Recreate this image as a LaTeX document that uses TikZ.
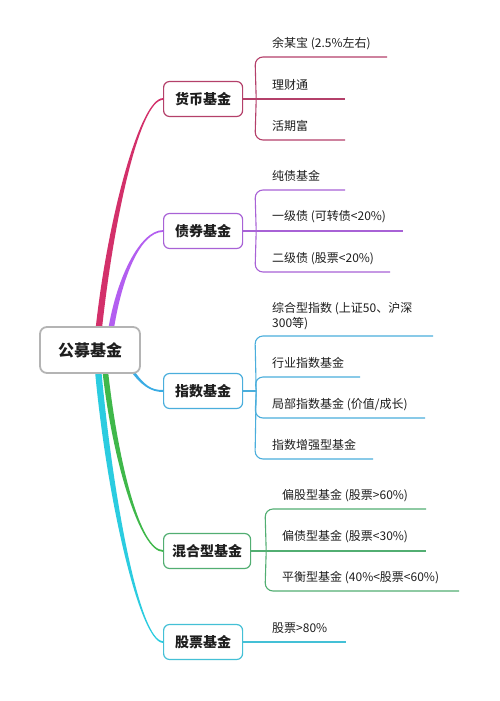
\documentclass[tikz,border=0pt]{standalone}
\usepackage{fontspec}
\setmainfont{Noto Sans CJK SC}
\usetikzlibrary{calc,backgrounds}
\definecolor{txt}{HTML}{1E1E1E}
\definecolor{pinkT}{HTML}{D3306A}
\definecolor{pinkL}{HTML}{B4406A}
\definecolor{purT}{HTML}{B35EF0}
\definecolor{purL}{HTML}{A862D6}
\definecolor{bluT}{HTML}{3AACE4}
\definecolor{bluL}{HTML}{4AAEDC}
\definecolor{grnT}{HTML}{3FB84A}
\definecolor{grnL}{HTML}{52AE72}
\definecolor{cyaT}{HTML}{2BCCE0}
\definecolor{cyaL}{HTML}{44C0D6}
\definecolor{rootB}{HTML}{B4B4B4}
\tikzset{
 rootbox/.style={draw=rootB, line width=1.8pt, rounded corners=7pt, fill=white, minimum width=100pt, minimum height=46pt, inner sep=0pt, font=\fontsize{16}{18}\selectfont\bfseries, text=txt},
 branchbox/.style={line width=1.2pt, rounded corners=6pt, fill=white, minimum width=79pt, minimum height=35pt, inner xsep=8.5pt, inner ysep=0pt, font=\fontsize{14}{16}\selectfont\bfseries, text=txt, anchor=west},
 leaf/.style={anchor=base west, inner sep=0pt, font=\fontsize{12}{15}\selectfont, text=txt, align=left},
 leafline/.style={line width=1.1pt, rounded corners=8pt},
}
\newcommand{\trunk}[8]{%
 \fill[#1] ($#2+(-#6,0)$) .. controls ($#3+(-#6,0)$) and ($#4+(0,#7)$) .. ($#5+(0,#7)$)
   -- ($#5+(0,#8)$) .. controls ($#4+(0,#8)$) and ($#3+(#6,0)$) .. ($#2+(#6,0)$) -- cycle;}
\begin{document}
\begin{tikzpicture}[x=1pt,y=-1pt]
\useasboundingbox (0,0) rectangle (500,701);
% nodes
\node[rootbox] (root) at (90,350) {公募基金};
\node[branchbox, draw=pinkL] (hb) at (163,99) {货币基金};
\node[branchbox, draw=purL] (zq) at (163,231) {债券基金};
\node[branchbox, draw=bluL] (zs) at (163,391) {指数基金};
\node[branchbox, draw=grnL] (hh) at (163,551) {混合型基金};
\node[branchbox, draw=cyaL] (gp) at (163,642) {股票基金};
% leaf texts
\node[leaf] (l11) at (272,47.5) {余某宝 (2.5\%左右)};
\node[leaf] (l12) at (272,89.5) {理财通};
\node[leaf] (l13) at (272,130.5) {活期富};
\node[leaf] (l21) at (272,180.5) {纯债基金};
\node[leaf] (l22) at (272,220.5) {一级债 (可转债<20\%)};
\node[leaf] (l23) at (272,262.5) {二级债 (股票<20\%)};
\node[leaf] (l31) at (272,327.5) {综合型指数 (上证50、沪深\\300等)};
\node[leaf] (l32) at (272,367.5) {行业指数基金};
\node[leaf] (l33) at (272,408.5) {局部指数基金 (价值/成长)};
\node[leaf] (l34) at (272,449.5) {指数增强型基金};
\node[leaf] (l41) at (282,499.5) {偏股型基金 (股票>60\%)};
\node[leaf] (l42) at (282,540.5) {偏债型基金 (股票<30\%)};
\node[leaf] (l43) at (282,581.5) {平衡型基金 (40\%<股票<60\%)};
\node[leaf] (l51) at (272,632.5) {股票>80\%};
% junctions
\coordinate (hbj) at ($(hb.east)+(13,0)$);
\coordinate (zqj) at ($(zq.east)+(13,0)$);
\coordinate (zsj) at ($(zs.east)+(13,0)$);
\coordinate (hhj) at ($(hh.east)+(15,0)$);
\begin{pgfonlayer}{background}
\fill[white] (0,0) rectangle (500,701);
\trunk{purT}{(root.north)+(20,10)}{(root.north)+(28,-47)}{(zq.west)+(-23,0)}{(zq.west)}{2.8}{-0.9}{0.9}
\trunk{pinkT}{(root.north)+(8,10)}{(root.north)+(20,-107)}{(hb.west)+(-23,0)}{(hb.west)}{3.2}{-0.9}{0.9}
\trunk{bluT}{(root.south east)+(-10,-5)}{(root.south east)+(2,12)}{(zs.west)+(-12,0)}{(zs.west)}{1.8}{1}{-1}
\trunk{grnT}{(root.south)+(15,-5)}{(root.south)+(25,87)}{(hh.west)+(-23,0)}{(hh.west)}{2.8}{0.9}{-0.9}
\trunk{cyaT}{(root.south)+(8,-5)}{(root.south)+(20,127)}{(gp.west)+(-23,0)}{(gp.west)}{3.2}{0.9}{-0.9}
% money
\draw[leafline, pinkL] (hb.east) -- (345,99);
\draw[leafline, pinkL] (hbj) -- (255,57) -- (387,57);
\draw[leafline, pinkL] (hbj) -- (255,140) -- (345,140);
% bond
\draw[leafline, purL] (zq.east) -- (403,231);
\draw[leafline, purL] (zqj) -- (255,190) -- (345,190);
\draw[leafline, purL] (zqj) -- (255,272) -- (390,272);
% index
\draw[leafline, bluL] (zs.east) -- (zsj);
\draw[leafline, bluL] (zsj) -- (255,336) -- (433,336);
\draw[leafline, bluL] (zsj) -- (255,377) -- (360,377);
\draw[leafline, bluL] (zsj) -- (255,418) -- (425,418);
\draw[leafline, bluL] (zsj) -- (255,459) -- (373,459);
% mixed
\draw[leafline, grnL] (hh.east) -- (426,551);
\draw[leafline, grnL] (hhj) -- (265,509) -- (426,509);
\draw[leafline, grnL] (hhj) -- (265,591) -- (459,591);
% stock
\draw[leafline, cyaL] (gp.east) -- (346,642);
\end{pgfonlayer}
\end{tikzpicture}
\end{document}
